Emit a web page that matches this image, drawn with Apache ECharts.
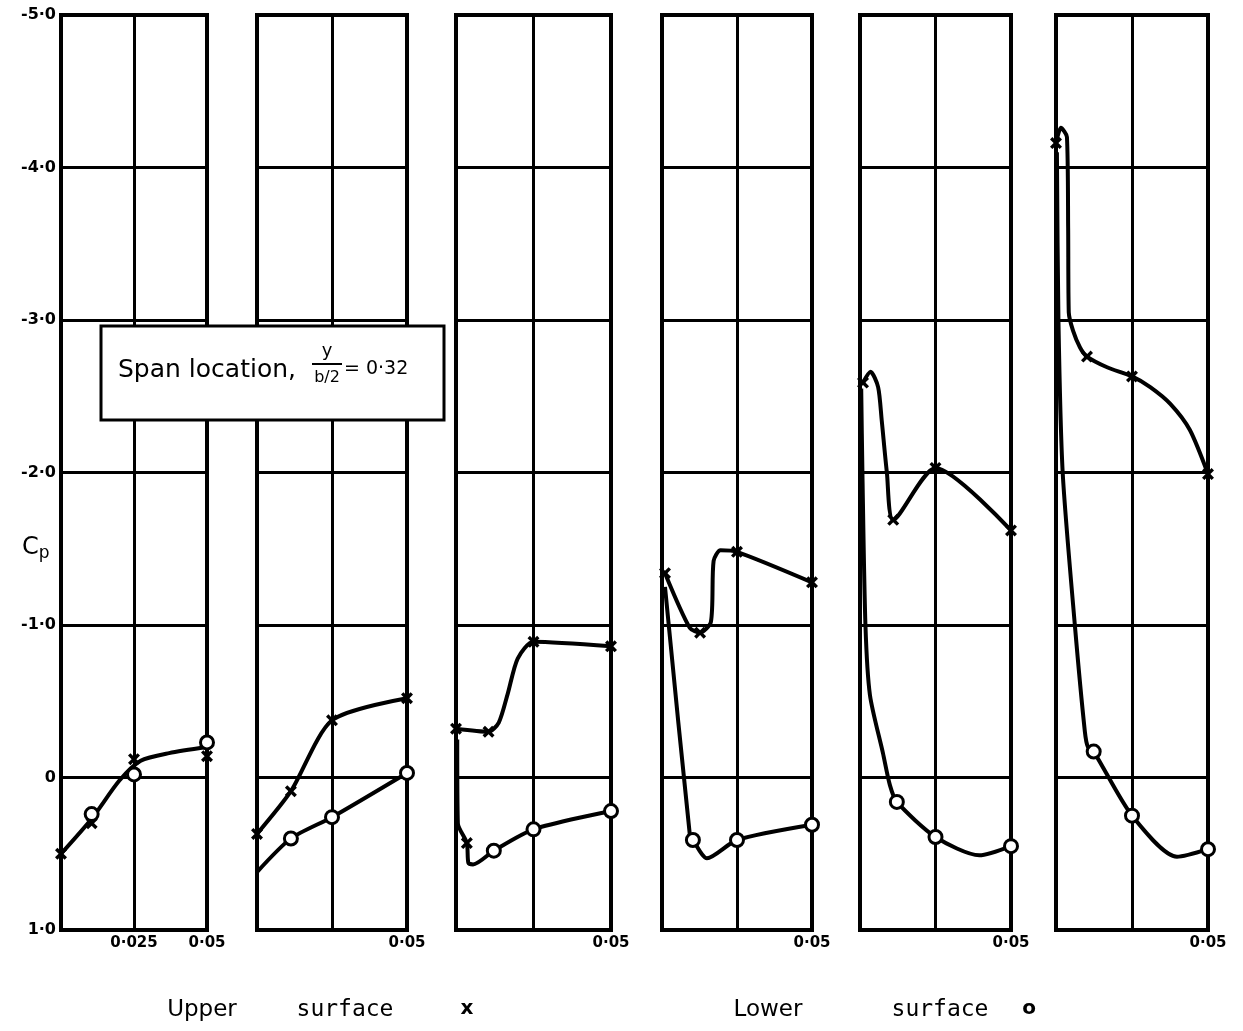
<!DOCTYPE html>
<html><head><meta charset="utf-8">
<script src="https://cdn.jsdelivr.net/npm/echarts@6/dist/echarts.min.js"></script>
<style>html,body{margin:0;padding:0;background:#fff}#c{width:1243px;height:1031px}</style>
</head><body><div id="c"></div>
<script>
// ---- data (x/c, Cp) ----
const yTickValues = [-5, -4, -3, -2, -1, 0, 1];
const yTickLabels = ['-5·0', '-4·0', '-3·0', '-2·0', '-1·0', '0', '1·0'];
const xTickValues = [0.025, 0.05];
const xTickLabelsFirst = ['0·025', '0·05'];
const xTickLabelsOther = ['', '0·05'];

// Panel 1
const p1UpperPts = [[0, 0.50], [0.0105, 0.30], [0.025, -0.12], [0.05, -0.14]];
const p1LowerPts = [[0.0105, 0.24], [0.025, -0.02], [0.05, -0.23]];
const p1UpperLine = [[0, 0.50], [0.0105, 0.27], [0.02, 0.02], [0.0273, -0.11], [0.037, -0.16], [0.05, -0.20]];
const p1LowerLine = [];
// Panel 2
const p2UpperPts = [[0, 0.37], [0.0113, 0.09], [0.025, -0.375], [0.05, -0.52]];
const p2LowerPts = [[0.0113, 0.40], [0.025, 0.26], [0.05, -0.03]];
const p2UpperLine = [[0, 0.37], [0.0113, 0.09], [0.025, -0.375], [0.05, -0.52]];
const p2LowerLine = [[0, 0.62], [0.0113, 0.40], [0.025, 0.26], [0.05, -0.03]];
// Panel 3
const p3UpperPts = [[0, -0.32], [0.0105, -0.30], [0.025, -0.89], [0.05, -0.86], [0.0035, 0.43]];
const p3LowerPts = [[0.0122, 0.48], [0.025, 0.34], [0.05, 0.22]];
const p3UpperLine = [[0, -0.32], [0.0105, -0.30], [0.0138, -0.36], [0.0167, -0.55], [0.0199, -0.78], [0.025, -0.89], [0.05, -0.86]];
const p3LowerLine = [[0.0004, -0.25], [0.0006, 0.30], [0.0035, 0.43], [0.004, 0.56], [0.0055, 0.57], [0.0122, 0.48], [0.025, 0.34], [0.05, 0.22]];
// Panel 4
const p4UpperPts = [[0.001, -1.34], [0.0127, -0.95], [0.025, -1.48], [0.05, -1.28]];
const p4LowerPts = [[0.0103, 0.41], [0.025, 0.41], [0.05, 0.31]];
const p4UpperLine = [[0.001, -1.34], [0.0093, -0.98], [0.0127, -0.95], [0.0163, -1.02], [0.0172, -1.42], [0.0195, -1.49], [0.025, -1.48], [0.05, -1.28]];
const p4LowerLine = [[0.001, -1.25], [0.0093, 0.38], [0.0103, 0.41], [0.015, 0.53], [0.025, 0.41], [0.05, 0.31]];
// Panel 5
const p5UpperPts = [[0.001, -2.59], [0.011, -1.69], [0.025, -2.03], [0.05, -1.62]];
const p5LowerPts = [[0.0122, 0.16], [0.025, 0.39], [0.05, 0.45]];
const p5UpperLine = [[0.001, -2.59], [0.0035, -2.66], [0.006, -2.56], [0.0072, -2.34], [0.0089, -2.0], [0.011, -1.69], [0.025, -2.03], [0.05, -1.62]];
const p5LowerLine = [[0.0004, -2.55], [0.0008, -2.0], [0.0018, -1.0], [0.0033, -0.54], [0.0076, -0.16], [0.0099, 0.05], [0.0122, 0.16], [0.025, 0.39], [0.0395, 0.51], [0.05, 0.45]];
// Panel 6
const p6UpperPts = [[0, -4.16], [0.0102, -2.76], [0.025, -2.63], [0.05, -1.99]];
const p6LowerPts = [[0.0124, -0.17], [0.025, 0.25], [0.05, 0.47]];
const p6UpperLine = [[0, -4.16], [0.0016, -4.26], [0.0036, -4.2], [0.004, -3.6], [0.0042, -3.05], [0.0056, -2.93], [0.0079, -2.82], [0.0102, -2.76], [0.0168, -2.69], [0.025, -2.63], [0.031, -2.56], [0.0376, -2.45], [0.044, -2.28], [0.05, -1.99]];
const p6LowerLine = [[0.0003, -4.1], [0.0008, -3.0], [0.0022, -2.0], [0.0062, -1.0], [0.0095, -0.3], [0.0105, -0.2], [0.0124, -0.17], [0.025, 0.25], [0.0398, 0.52], [0.05, 0.47]];

const panels = [
  {up: p1UpperPts, lo: p1LowerPts, upL: p1UpperLine, loL: p1LowerLine},
  {up: p2UpperPts, lo: p2LowerPts, upL: p2UpperLine, loL: p2LowerLine},
  {up: p3UpperPts, lo: p3LowerPts, upL: p3UpperLine, loL: p3LowerLine},
  {up: p4UpperPts, lo: p4LowerPts, upL: p4UpperLine, loL: p4LowerLine},
  {up: p5UpperPts, lo: p5LowerPts, upL: p5UpperLine, loL: p5LowerLine},
  {up: p6UpperPts, lo: p6LowerPts, upL: p6UpperLine, loL: p6LowerLine}
];

// ---- layout ----
const lefts = [61, 257, 456, 662, 860, 1056];
const widths = [146, 150, 155, 150, 151, 152];
const TOP = 15, HEIGHT = 915;
const XMARK = 'path://M0,2 L2,0 L5,3 L8,0 L10,2 L7,5 L10,8 L8,10 L5,7 L2,10 L0,8 L3,5 Z';
const FONT = 'DejaVu Sans';

const grid = [], xAxis = [], yAxis = [], series = [];
panels.forEach((p, i) => {
  grid.push({left: lefts[i], top: TOP, width: widths[i], height: HEIGHT, show: true,
    borderColor: '#000', borderWidth: 4, backgroundColor: 'transparent'});
  const xl = i === 0 ? xTickLabelsFirst : xTickLabelsOther;
  xAxis.push({type: 'value', gridIndex: i, min: 0, max: 0.05, interval: 0.025,
    axisLine: {show: false}, axisTick: {show: false},
    splitLine: {show: true, lineStyle: {color: '#000', width: 3}},
    axisLabel: {show: true, showMaxLabel: true, showMinLabel: false, margin: 6, color: '#000',
      fontFamily: FONT, fontWeight: 'bold', fontSize: 15,
      formatter: v => { const k = xTickValues.findIndex(t => Math.abs(t - v) < 1e-9); return k >= 0 ? xl[k] : ''; }}});
  yAxis.push({type: 'value', gridIndex: i, inverse: true, min: -5, max: 1, interval: 1,
    axisLine: {show: false}, axisTick: {show: false},
    splitLine: {show: true, lineStyle: {color: '#000', width: 3}},
    axisLabel: {show: i === 0, margin: 5, color: '#000', fontFamily: FONT, fontWeight: 'bold', fontSize: 16,
      formatter: v => { const k = yTickValues.findIndex(t => Math.abs(t - v) < 1e-9); return k >= 0 ? yTickLabels[k] : ''; }}});
  const lineBase = {type: 'line', xAxisIndex: i, yAxisIndex: i, showSymbol: false, symbol: 'none',
    smooth: 0.25, clip: false, silent: true,
    lineStyle: {color: '#000', width: 4}, z: 3};
  if (p.upL.length) series.push(Object.assign({}, lineBase, {name: 'Upper surface', data: p.upL}));
  if (p.loL.length) series.push(Object.assign({}, lineBase, {name: 'Lower surface', data: p.loL}));
  series.push({type: 'scatter', name: 'Upper surface', xAxisIndex: i, yAxisIndex: i, data: p.up,
    symbol: XMARK, symbolSize: 12, clip: false, itemStyle: {color: '#000', opacity: 1}, z: 5});
  series.push({type: 'scatter', name: 'Lower surface', xAxisIndex: i, yAxisIndex: i, data: p.lo,
    symbol: 'circle', symbolSize: 13, clip: false,
    itemStyle: {color: '#fff', borderColor: '#000', borderWidth: 3, opacity: 1}, z: 6});
});

const legendFont = '23px "DejaVu Sans"';
const graphic = [
  {type: 'rect', shape: {x: 101, y: 326, width: 343, height: 94}, z: 100,
    style: {fill: '#fff', stroke: '#000', lineWidth: 3}},
  {type: 'text', x: 118, y: 370, z: 101, style: {text: 'Span location,', fill: '#000',
    font: '25px "DejaVu Sans"', textVerticalAlign: 'middle'}},
  {type: 'text', x: 327, y: 351, z: 101, style: {text: 'y', fill: '#000',
    font: '18px "DejaVu Sans"', textAlign: 'center', textVerticalAlign: 'middle'}},
  {type: 'line', z: 101, shape: {x1: 312, y1: 364, x2: 342, y2: 364}, style: {stroke: '#000', lineWidth: 2}},
  {type: 'text', x: 327, y: 378, z: 101, style: {text: 'b/2', fill: '#000',
    font: '16px "DejaVu Sans"', textAlign: 'center', textVerticalAlign: 'middle'}},
  {type: 'text', x: 344, y: 369, z: 101, style: {text: '= 0·32', fill: '#000',
    font: '19px "DejaVu Sans"', textVerticalAlign: 'middle'}},
  {type: 'text', x: 22, y: 548, style: {text: '{c|C}{p|p}', fill: '#000', textVerticalAlign: 'middle',
    rich: {c: {fontSize: 24, fontFamily: FONT, fill: '#000'}, p: {fontSize: 17, fontFamily: FONT, fill: '#000', padding: [12, 0, 0, 0]}}}},
  {type: 'text', x: 202, y: 1010, style: {text: 'Upper', fill: '#000', font: legendFont, textAlign: 'center', textVerticalAlign: 'middle'}},
  {type: 'text', x: 345, y: 1010, style: {text: 'surface', fill: '#000', font: '23px "DejaVu Sans Mono"', textAlign: 'center', textVerticalAlign: 'middle'}},
  {type: 'text', x: 467, y: 1009, style: {text: 'x', fill: '#000', font: 'bold 20px "DejaVu Sans"', textAlign: 'center', textVerticalAlign: 'middle'}},
  {type: 'text', x: 768, y: 1010, style: {text: 'Lower', fill: '#000', font: legendFont, textAlign: 'center', textVerticalAlign: 'middle'}},
  {type: 'text', x: 940, y: 1010, style: {text: 'surface', fill: '#000', font: '23px "DejaVu Sans Mono"', textAlign: 'center', textVerticalAlign: 'middle'}},
  {type: 'text', x: 1029, y: 1009, style: {text: 'o', fill: '#000', font: 'bold 20px "DejaVu Sans"', textAlign: 'center', textVerticalAlign: 'middle'}}
];

const chart = echarts.init(document.getElementById('c'), null, {renderer: 'canvas'});
chart.setOption({backgroundColor: '#fff', animation: false, grid, xAxis, yAxis, series, graphic});
</script></body></html>
